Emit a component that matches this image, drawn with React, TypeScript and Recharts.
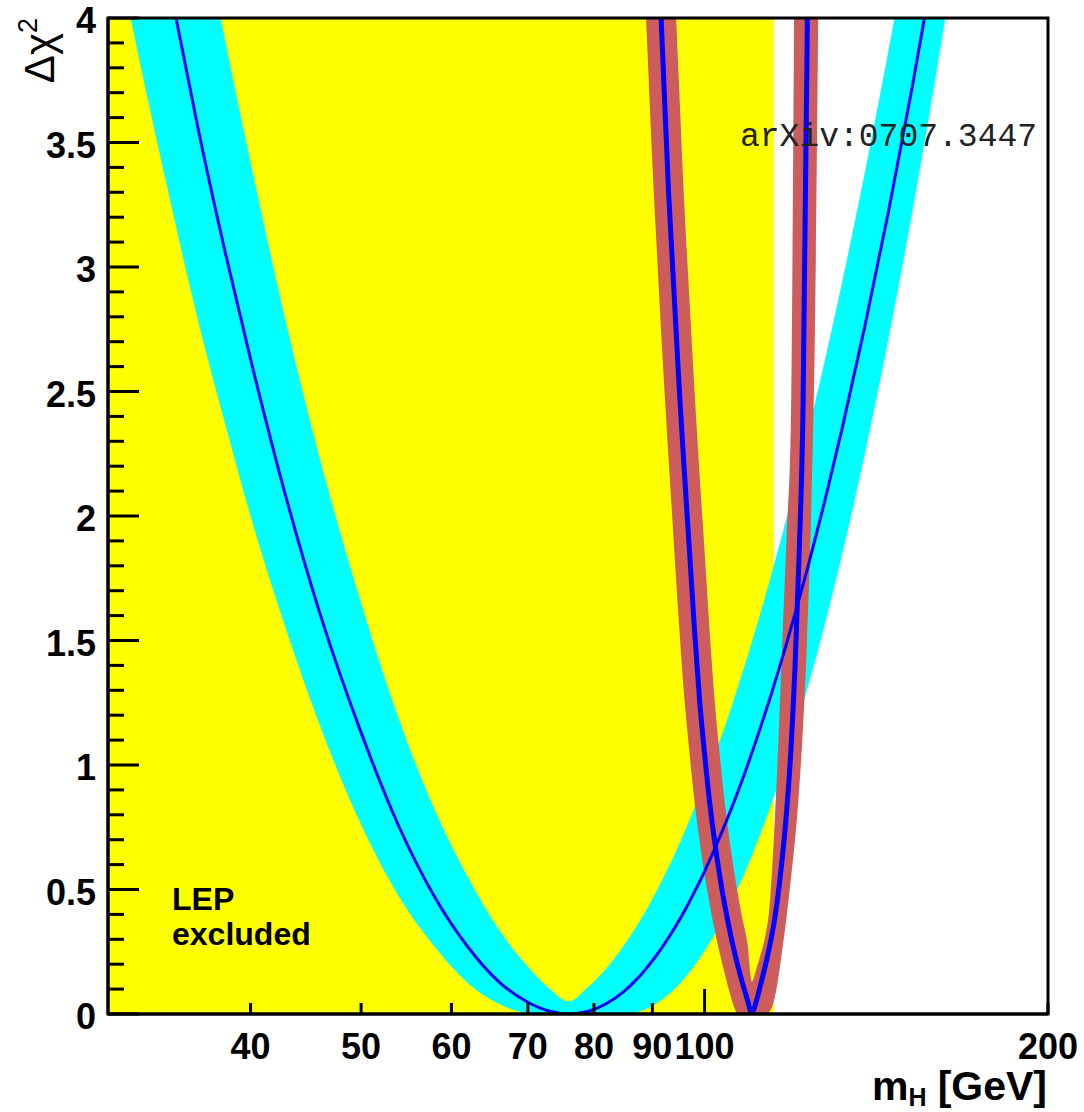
import { ComposedChart, Area, Line, XAxis, YAxis, ReferenceArea } from 'recharts';

// m_H grid (GeV) for the wide fit band
const massGeV = [30, 32, 34, 36, 38, 40, 43, 46, 50, 54, 58, 62, 66, 70, 73, 76, 79, 82, 85,
  86, 87, 88, 89, 90, 91, 92, 93, 94, 95, 96, 97, 98, 99, 100, 101, 102, 103, 104, 105, 106,
  107, 108, 109, 110, 111, 112, 113, 114, 115, 116, 117, 118, 119, 120, 121, 122, 123, 124,
  125, 126, 127, 128, 132, 138, 145, 152, 160, 170, 185, 200];

// wide band: central curve and lower / upper edge (delta chi2)
const wideFit = [5.49, 4.76, 4.12, 3.55, 3.06, 2.63, 2.07, 1.61, 1.13, 0.75, 0.47, 0.27, 0.13, 0.047, 0.012, 0, 0.01, 0.041, 0.091,
  0.112, 0.135, 0.159, 0.186, 0.214, 0.243, 0.274, 0.307, 0.341, 0.376, 0.413, 0.451, 0.491, 0.531, 0.573, 0.616, 0.66, 0.705, 0.751, 0.798, 0.846,
  0.895, 0.945, 0.996, 1.048, 1.1, 1.154, 1.208, 1.262, 1.318, 1.374, 1.431, 1.488, 1.547, 1.605, 1.665, 1.725, 1.785, 1.846,
  1.908, 1.97, 2.032, 2.096, 2.352, 2.749, 3.227, 3.719, 4.293, 5.024, 6.141, 7.269];
const wideLow = [4.45, 3.82, 3.27, 2.78, 2.37, 2.0, 1.54, 1.16, 0.76, 0.47, 0.27, 0.125, 0.041, 0.004, 0, 0, 0, 0, 0,
  0.002, 0.006, 0.012, 0.021, 0.032, 0.045, 0.061, 0.078, 0.098, 0.119, 0.143, 0.168, 0.195, 0.223, 0.254, 0.285, 0.319, 0.354, 0.39, 0.428, 0.467,
  0.507, 0.548, 0.591, 0.635, 0.681, 0.727, 0.774, 0.823, 0.872, 0.923, 0.975, 1.027, 1.08, 1.134, 1.19, 1.246, 1.302, 1.36,
  1.418, 1.477, 1.537, 1.597, 1.846, 2.237, 2.716, 3.216, 3.807, 4.571, 5.752, 6.962];
const wideHigh = [6.64, 5.82, 5.11, 4.47, 3.91, 3.42, 2.77, 2.23, 1.65, 1.18, 0.82, 0.55, 0.34, 0.19, 0.105, 0.05, 0.107, 0.183, 0.276,
  0.31, 0.346, 0.383, 0.422, 0.462, 0.503, 0.546, 0.59, 0.635, 0.682, 0.729, 0.778, 0.828, 0.878, 0.93, 0.982, 1.036, 1.09, 1.145, 1.201, 1.258,
  1.316, 1.374, 1.433, 1.493, 1.553, 1.614, 1.676, 1.738, 1.801, 1.864, 1.928, 1.992, 2.057, 2.122, 2.188, 2.254, 2.321, 2.388,
  2.456, 2.524, 2.592, 2.661, 2.939, 3.365, 3.873, 4.391, 4.991, 5.75, 6.897, 8.048];

// narrow band, defined from 86 to 127 GeV
const narrowMassGeV = [86, 87, 88, 89, 90, 91, 92, 93, 94, 95, 96, 97, 98, 99, 100, 101, 102, 103, 104, 105, 106,
  107, 108, 109, 110, 111, 112, 113, 114, 115, 116, 117, 118, 119, 120, 121, 122, 123, 124, 125, 126, 127];
const narrowLow = [5.61, 5.03, 4.47, 3.93, 3.42, 2.99, 2.59, 2.23, 1.89, 1.56, 1.27, 1.05, 0.852, 0.694, 0.559, 0.443, 0.343, 0.253, 0.175, 0.1, 0.035,
  0, 0, 0, 0, 0, 0, 0, 0.01, 0.05, 0.14, 0.26, 0.39, 0.537, 0.695, 0.892, 1.156, 1.51, 2.0, 2.8, 4.4, 6.6];
const narrowHigh = [8.8, 8.2, 7.6, 7.0, 6.4, 5.83, 5.26, 4.73, 4.21, 3.72, 3.25, 2.87, 2.5, 2.17, 1.86, 1.546, 1.274, 1.063, 0.876, 0.723, 0.591,
  0.477, 0.378, 0.289, 0.13, 0.18, 0.24, 0.31, 0.43, 0.7, 1.07, 1.5, 1.92, 2.35, 4.5, 7.0, 9.5, 12, 14, 16, 18, 20];
// central curve of the narrow band (86 .. 124 GeV)
const narrowFit = [7.2, 6.6, 6.0, 5.4, 4.85, 4.31, 3.8, 3.3, 2.91, 2.52, 2.18, 1.86, 1.54, 1.26, 1.046, 0.855, 0.701, 0.568, 0.454, 0.355, 0.266,
  0.189, 0.121, 0.059, 0.005, 0.05, 0.12, 0.19, 0.27, 0.36, 0.48, 0.63, 0.81, 1.05, 1.38, 1.83, 2.45, 3.9, 6.0];

const xTicks = [40, 50, 60, 70, 80, 90, 100, 200];
const yMajorTicks = [0, 0.5, 1, 1.5, 2, 2.5, 3, 3.5, 4];
const yTicks = Array.from({ length: 41 }, (_, i) => i / 10);
const lepLimit = 115;

const rows = massGeV.map((m, i) => {
  const j = narrowMassGeV.indexOf(m);
  return {
    m,
    wide: [wideLow[i], wideHigh[i]],
    wideFit: wideFit[i],
    narrow: j >= 0 ? [narrowLow[j], narrowHigh[j]] : null,
    narrowFit: j >= 0 && j < narrowFit.length ? narrowFit[j] : null,
  };
});

const W = 1084;
const H = 1112;
const M = { top: 18, right: 36, bottom: 38, left: 8 };
const Y_AXIS_W = 100;
const X_AXIS_H = 60;
const SANS = '"Liberation Sans", Arial, Helvetica, sans-serif';
const X_MARGIN = 12;
const Y_MARGIN = 12;

function XTick(props: any) {
  const { x, y, payload } = props;
  const axisY = y - X_MARGIN;
  const len = payload.value === 100 ? 25 : 11;
  return (
    <g>
      <line x1={x} x2={x} y1={axisY} y2={axisY - len} stroke="#000" strokeWidth={3} />
      <text x={x} y={axisY + 45} textAnchor="middle" fontFamily={SANS} fontWeight="bold" fontSize={36} fill="#000">
        {payload.value}
      </text>
    </g>
  );
}

function YTick(props: any) {
  const { x, y, payload } = props;
  const axisX = x + Y_MARGIN;
  const v = payload.value;
  const major = yMajorTicks.some((t) => Math.abs(t - v) < 1e-6);
  return (
    <g>
      <line x1={axisX} x2={axisX + (major ? 31 : 16)} y1={y} y2={y} stroke="#000" strokeWidth={3} />
      {major && (
        <text x={axisX - 12} y={y + 15} textAnchor="end" fontFamily={SANS} fontWeight="bold" fontSize={36} fill="#000">
          {String(v)}
        </text>
      )}
    </g>
  );
}

// frame and free texts, drawn over the plot
function Overlay() {
  const plotX = M.left + Y_AXIS_W;
  const plotY = M.top;
  const plotW = W - plotX - M.right;
  const plotH = H - M.top - M.bottom - X_AXIS_H;
  return (
    <svg width={W} height={H} style={{ position: 'absolute', left: 0, top: 0, pointerEvents: 'none' }}>
      <rect x={plotX} y={plotY} width={plotW} height={plotH} fill="none" stroke="#000" strokeWidth={3} />
      <text x={1047} y={1100} textAnchor="end" fontFamily={SANS} fontWeight="bold" fontSize={41} fill="#000">
        m<tspan fontSize={25} dy={6}>H</tspan>
        <tspan dy={-6} dx={11}>[GeV]</tspan>
      </text>
      <text x={54} y={18} transform="rotate(-90 54 18)" textAnchor="end" fontFamily={SANS} fontSize={42} fill="#000">
        Δχ<tspan fontSize={27} dy={-17}>2</tspan>
      </text>
      <text x={740} y={146} fontFamily='"Liberation Mono", "DejaVu Sans Mono", monospace' fontSize={33} fill="#222">
        arXiv:0707.3447
      </text>
      <text x={172} y={910} fontFamily={SANS} fontWeight="bold" fontSize={32} fill="#000">LEP</text>
      <text x={172} y={945} fontFamily={SANS} fontWeight="bold" fontSize={32} fill="#000">excluded</text>
    </svg>
  );
}

export default function App() {
  return (
    <div style={{ position: 'absolute', left: 0, top: 0, width: W, height: H, background: '#fff' }}>
      <ComposedChart width={W} height={H} data={rows} margin={M}>
        <ReferenceArea x1={30} x2={lepLimit} y1={0} y2={4} fill="#ffff00" fillOpacity={1} stroke="none" />
        <Area
          type="monotone"
          dataKey="wide"
          fill="#00ffff"
          fillOpacity={1}
          stroke="none"
          isAnimationActive={false}
          activeDot={false}
        />
        <Line type="monotone" dataKey="wideFit" stroke="#0000ff" strokeWidth={3} dot={false} activeDot={false} isAnimationActive={false} />
        <Area
          type="monotone"
          dataKey="narrow"
          fill="#cd5c5c"
          fillOpacity={1}
          stroke="none"
          isAnimationActive={false}
          activeDot={false}
        />
        <Line type="monotone" dataKey="narrowFit" stroke="#0000ff" strokeWidth={5} dot={false} activeDot={false} isAnimationActive={false} />
        <XAxis
          dataKey="m"
          type="number"
          scale="log"
          domain={[30, 200]}
          allowDataOverflow
          ticks={xTicks}
          interval={0}
          height={X_AXIS_H}
          tickSize={0}
          tickMargin={X_MARGIN}
          tickLine={false}
          tick={<XTick />}
          axisLine={{ stroke: '#000', strokeWidth: 3 }}
        />
        <YAxis
          type="number"
          domain={[0, 4]}
          allowDataOverflow
          ticks={yTicks}
          interval={0}
          width={Y_AXIS_W}
          tickSize={0}
          tickMargin={Y_MARGIN}
          tickLine={false}
          tick={<YTick />}
          axisLine={{ stroke: '#000', strokeWidth: 3 }}
        />
      </ComposedChart>
      <Overlay />
    </div>
  );
}
